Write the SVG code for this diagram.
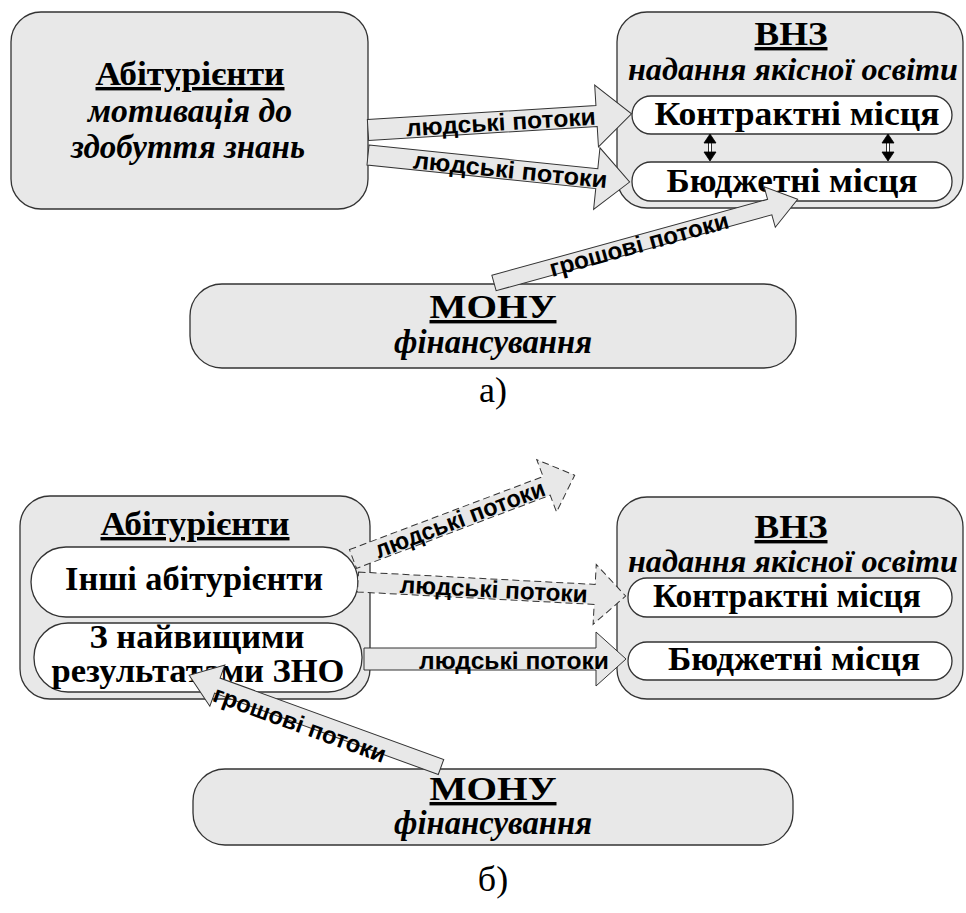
<svg xmlns="http://www.w3.org/2000/svg" width="966" height="913" viewBox="0 0 966 913">
<style>
.box{fill:#e8e8e8;stroke:#333;stroke-width:1.3}
.inner{fill:#fff;stroke:#333;stroke-width:1.3}
.arrow{fill:#e8e8e8;stroke:#333;stroke-width:1}
.dash{stroke-dasharray:7 4}
.t{font-family:'Liberation Serif','Times New Roman',serif;font-weight:bold;font-size:34px;text-anchor:middle;fill:#000}
.i{font-style:italic}
.s{font-size:31px}
.u{text-decoration:underline}
.lbl{font-family:'Liberation Sans',Arial,sans-serif;font-weight:bold;font-size:24px;text-anchor:middle;dominant-baseline:central;fill:#000}
.cap{font-family:'Liberation Serif','Times New Roman',serif;font-size:36px;text-anchor:middle;fill:#000}
.dbl{fill:#000;stroke:#000;stroke-width:0.8}
</style>
<rect width="966" height="913" fill="#fff"/>

<g id="nodes">
<!-- ===== a) ===== -->
<g id="a-abiturienty">
<rect class="box" x="11" y="12" width="357" height="197" rx="30"/>
<text class="t u" x="190" y="85" textLength="189" lengthAdjust="spacingAndGlyphs">Абітурієнти</text>
<text class="t i" x="190" y="122" textLength="204" lengthAdjust="spacingAndGlyphs">мотивація до</text>
<text class="t i" x="188" y="158" textLength="234" lengthAdjust="spacingAndGlyphs">здобуття знань</text>
</g>
<g id="a-vnz">
<rect class="box" x="617" y="12" width="346" height="196" rx="30"/>
<text class="t u" x="791" y="45" textLength="73" lengthAdjust="spacingAndGlyphs">ВНЗ</text>
<text class="t i s" x="793" y="80" textLength="330" lengthAdjust="spacingAndGlyphs">надання якісної освіти</text>
<g id="a-kontrakt">
<rect class="inner" x="632" y="96" width="320" height="38" rx="19"/>
<text class="t" x="797" y="125" textLength="285" lengthAdjust="spacingAndGlyphs">Контрактні місця</text>
</g>
<g id="a-budzhet">
<rect class="inner" x="632" y="162" width="320" height="39" rx="19"/>
<text class="t" x="792" y="192" textLength="251" lengthAdjust="spacingAndGlyphs">Бюджетні місця</text>
</g>
</g>
<g id="a-monu">
<rect class="box" x="190" y="284" width="606" height="84" rx="32"/>
<text class="t u" x="493" y="318" textLength="127" lengthAdjust="spacingAndGlyphs">МОНУ</text>
<text class="t i" x="493" y="353" textLength="198" lengthAdjust="spacingAndGlyphs">фінансування</text>
</g>

<!-- ===== б) ===== -->
<g id="b-abiturienty">
<rect class="box" x="20" y="496" width="350" height="203" rx="30"/>
<text class="t u" x="195" y="535" textLength="189" lengthAdjust="spacingAndGlyphs">Абітурієнти</text>
<g id="b-inshi">
<rect class="inner" x="31" y="547" width="327" height="70" rx="35"/>
<text class="t" x="194" y="590" textLength="258" lengthAdjust="spacingAndGlyphs">Інші абітурієнти</text>
</g>
<g id="b-naivyshchi">
<rect class="inner" x="34" y="623" width="328" height="69" rx="34"/>
<text class="t" x="197" y="648" textLength="215" lengthAdjust="spacingAndGlyphs">З найвищими</text>
<text class="t" x="198" y="682" textLength="293" lengthAdjust="spacingAndGlyphs">результатами ЗНО</text>
</g>
</g>
<g id="b-vnz">
<rect class="box" x="617" y="497" width="346" height="202" rx="30"/>
<text class="t u" x="791" y="538" textLength="73" lengthAdjust="spacingAndGlyphs">ВНЗ</text>
<text class="t i s" x="793" y="572" textLength="330" lengthAdjust="spacingAndGlyphs">надання якісної освіти</text>
<g id="b-kontrakt">
<rect class="inner" x="628" y="578" width="324" height="39" rx="19"/>
<text class="t" x="787" y="607" textLength="268" lengthAdjust="spacingAndGlyphs">Контрактні місця</text>
</g>
<g id="b-budzhet">
<rect class="inner" x="628" y="642" width="324" height="38" rx="19"/>
<text class="t" x="794" y="670" textLength="252" lengthAdjust="spacingAndGlyphs">Бюджетні місця</text>
</g>
</g>
<g id="b-monu">
<rect class="box" x="193" y="769" width="600" height="76" rx="32"/>
<text class="t u" x="493" y="800" textLength="127" lengthAdjust="spacingAndGlyphs">МОНУ</text>
<text class="t i" x="493" y="834" textLength="198" lengthAdjust="spacingAndGlyphs">фінансування</text>
</g>
</g>
<text class="cap" x="493" y="402">а)</text>
<text class="cap" x="493" y="891">б)</text>

<!-- ===== connectors ===== -->
<g id="connectors">
<g transform="translate(368,130) rotate(-3.5)">
<polygon class="arrow" points="0,-10.5 229,-10.5 229,-31 264,0 229,31 229,10.5 0,10.5"/>
<text class="lbl" x="133" y="0" textLength="190" lengthAdjust="spacingAndGlyphs">людські потоки</text>
</g>
<g transform="translate(368,155) rotate(5.9)">
<polygon class="arrow" points="0,-10 230,-10 230,-31 263,0 230,31 230,10 0,10"/>
<text class="lbl" x="143" y="0" textLength="195" lengthAdjust="spacingAndGlyphs">людські потоки</text>
</g>
<g transform="translate(494,283) rotate(-15.4)">
<polygon class="arrow" points="0,-8 286,-8 286,-21 315,0 286,21 286,8 0,8"/>
<text class="lbl" x="150" y="1" textLength="185" lengthAdjust="spacingAndGlyphs">грошові потоки</text>
</g>
<g id="a-dbl1">
<polygon class="dbl" points="710,134 716,143 704,143"/>
<polygon class="dbl" points="704,152 716,152 710,161"/>
<rect x="708.5" y="143" width="3" height="9" fill="#fff" stroke="#000" stroke-width="0.8"/>
</g>
<g id="a-dbl2">
<polygon class="dbl" points="888,134 894,143 882,143"/>
<polygon class="dbl" points="882,152 894,152 888,161"/>
<rect x="886.5" y="143" width="3" height="9" fill="#fff" stroke="#000" stroke-width="0.8"/>
</g>

<g transform="translate(353,559) rotate(-20.7)">
<polygon class="arrow dash" points="0,-10 207,-10 207,-28 237,0 207,28 207,10 0,10"/>
<text class="lbl" x="114" y="0" textLength="180" lengthAdjust="spacingAndGlyphs">людські потоки</text>
</g>
<g transform="translate(358,582) rotate(3)">
<polygon class="arrow dash" points="0,-10 237,-10 237,-30 268,0 237,30 237,10 0,10"/>
<text class="lbl" x="136" y="0" textLength="188" lengthAdjust="spacingAndGlyphs">людські потоки</text>
</g>
<g transform="translate(364,659)">
<polygon class="arrow" points="0,-11 232,-11 232,-27 262,0 232,27 232,11 0,11"/>
<text class="lbl" x="150" y="1" textLength="190" lengthAdjust="spacingAndGlyphs">людські потоки</text>
</g>
<g transform="translate(441,767) rotate(-160)">
<polygon class="arrow" points="0,-8 238,-8 238,-22 268,0 238,22 238,8 0,8"/>
</g>
<text class="lbl" transform="translate(300,724) rotate(20)" x="0" y="0" textLength="182" lengthAdjust="spacingAndGlyphs">грошові потоки</text>
</g>
</svg>
